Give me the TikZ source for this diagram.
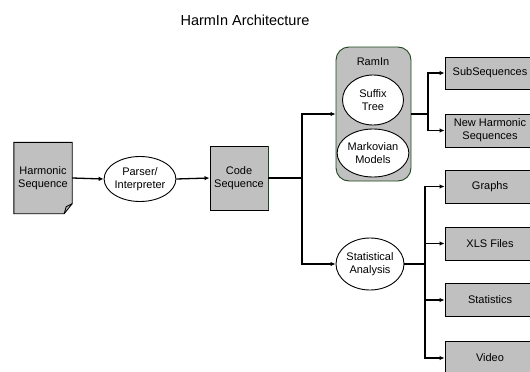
\documentclass[tikz,border=0pt]{standalone}
\usepackage{fontspec}
\setmainfont{Liberation Sans}
\usetikzlibrary{positioning}
\usetikzlibrary{shapes.geometric}
\usetikzlibrary{arrows.meta}
\definecolor{boxgray}{RGB}{192,192,192}
\definecolor{edgegreen}{RGB}{30,70,30}

\begin{document}
\begin{tikzpicture}[x=1pt,y=-1pt,
	label/.style={font=\fontsize{11}{13}\selectfont, align=center, inner sep=0pt},
	box/.style={label, rectangle, draw, fill=boxgray, line width=0.9pt},
	proc/.style={label, ellipse, draw, fill=white, line width=0.9pt},
	trunk/.style={line width=1.8pt},
	arr/.style={line width=1.3pt, -{Latex[length=5pt,width=4.5pt]}}]
	\useasboundingbox (0,0) rectangle (530,372);
	\clip (0,0) rectangle (530,372);
	\node [font=\fontsize{14.5}{16}\selectfont] at (245,20) (0T) {HarmIn Architecture};

	% Input and parsing
	\node [label, minimum width=58pt, minimum height=71pt] at (43,178) (1HS) {Harmonic\\Sequence};
	\fill [boxgray] (1HS.north west) -- (1HS.north east) -- ([yshift=10pt]1HS.south east) -- ([xshift=-8pt]1HS.south east) -- (1HS.south west) -- cycle;
	\draw [line width=0.9pt] (1HS.north west) -- (1HS.north east) -- ([yshift=10pt]1HS.south east) -- ([xshift=-8pt]1HS.south east) -- (1HS.south west) -- cycle;
	\draw [line width=0.9pt] ([yshift=10pt]1HS.south east) -- ([xshift=-6pt,yshift=7pt]1HS.south east) -- ([xshift=-8pt]1HS.south east);
	\node [label] at (43,178) {Harmonic\\Sequence};
	\node [proc, minimum width=69pt, minimum height=45pt] at (140,179) (2Parser) {Parser/\\Interpreter};
	\node [box, minimum width=58pt, minimum height=64pt] at (239,178) (3Code) {Code\\Sequence};
	\draw [edgegreen, line width=0.9pt] (3Code.north east) -- (3Code.south east);

	% RamIn and statistics
	\node [label, draw=edgegreen, fill=boxgray, line width=0.9pt, rounded corners=13pt, minimum width=75pt, minimum height=134pt] at (373.5,114) (4RamIn) {};
	\node [label] at (373,62) (4RamInT) {RamIn};
	\node [proc, minimum width=61pt, minimum height=50pt] at (373,100) (4Suffix) {Suffix\\Tree};
	\node [proc, minimum width=61pt, minimum height=48pt] at (373,153) (4Markov) {Markovian\\Models};
	\node [proc, minimum width=68pt, minimum height=52pt] at (370,264) (4Stat) {Statistical\\Analysis};

	% Outputs
	\node [box, minimum width=90pt, minimum height=32pt] at (490,73) (5Sub) {SubSequences};
	\node [box, minimum width=90pt, minimum height=33pt] at (490,130.5) (5NewHS) {New Harmonic\\Sequences};
	\node [box, minimum width=90pt, minimum height=33pt] at (490,186.5) (6Graphs) {Graphs};
	\node [box, minimum width=90pt, minimum height=33pt] at (490,243.5) (6XLS) {XLS Files};
	\node [box, minimum width=90pt, minimum height=33pt] at (490,300) (6Stats) {Statistics};
	\node [box, minimum width=90pt, minimum height=33pt] at (490,358) (6Video) {Video};

	% Connections
	\coordinate (jA) at (302,178);
	\coordinate (jB) at (428,114);
	\coordinate (jC) at (425,264);
	\draw [arr] (1HS.east) -- (2Parser.west);
	\draw [arr] (2Parser.east) -- (3Code.west);
	\draw [trunk] (3Code.east) -- (jA);
	\draw [arr] (jA) |- (4RamIn.west);
	\draw [arr] (jA) |- (4Stat.west);
	\draw [trunk] (4RamIn.east) -- (jB);
	\draw [arr] (jB) |- (5Sub.west);
	\draw [arr] (jB) |- (5NewHS.west);
	\draw [trunk] (4Stat.east) -- (jC);
	\draw [arr] (jC) |- (6Graphs.west);
	\draw [arr] (jC) |- (6XLS.west);
	\draw [arr] (jC) |- (6Stats.west);
	\draw [arr] (jC) |- (6Video.west);

\end{tikzpicture}
\end{document}
